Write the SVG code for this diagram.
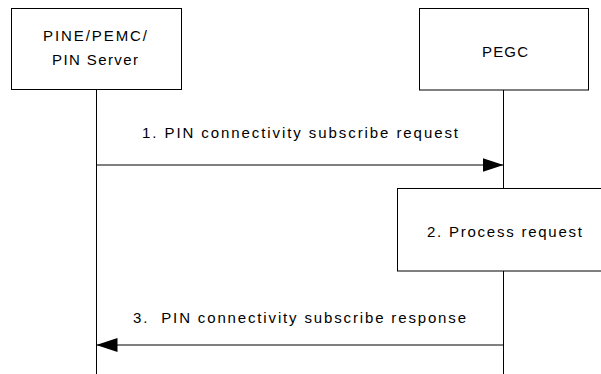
<svg xmlns="http://www.w3.org/2000/svg" width="601" height="374" viewBox="0 0 601 374">
  <style>
    .box { fill: #fff; stroke: #000; stroke-width: 1; }
    .life { stroke: #000; stroke-width: 1; fill: none; }
    .msg { stroke: #000; stroke-width: 1; fill: none; }
    text { font-family: "Liberation Sans", Arial, sans-serif; font-size: 15px; fill: #000; white-space: pre; }
  </style>
  <defs>
    <marker id="ah" viewBox="0 0 21 14" refX="21" refY="7" markerWidth="21" markerHeight="14" markerUnits="userSpaceOnUse" orient="auto">
      <path d="M0,0 L21,7 L0,14 Z" fill="#000"/>
    </marker>
  </defs>
  <g id="lifelines">
    <line class="life" x1="96.5" y1="89.5" x2="96.5" y2="374"/>
    <line class="life" x1="503.5" y1="90" x2="503.5" y2="374"/>
  </g>
  <g id="node-pine">
    <rect class="box" x="11.5" y="8.5" width="170" height="81"/>
    <text x="43" y="41" textLength="104" lengthAdjust="spacing">PINE/PEMC/</text>
    <text x="52" y="65" textLength="86" lengthAdjust="spacing">PIN Server</text>
  </g>
  <g id="node-pegc">
    <rect class="box" x="419.5" y="8.5" width="169" height="81.5"/>
    <text x="482" y="57" textLength="46" lengthAdjust="spacing">PEGC</text>
  </g>
  <g id="node-process">
    <rect class="box" x="397.5" y="188.5" width="210" height="82.5"/>
    <text x="427" y="237" textLength="155" lengthAdjust="spacing">2. Process request</text>
  </g>
  <g id="connectors">
    <line class="msg" x1="96.5" y1="165" x2="503.5" y2="165" marker-end="url(#ah)"/>
    <text x="142" y="138" textLength="316" lengthAdjust="spacing">1. PIN connectivity subscribe request</text>
    <line class="msg" x1="503.5" y1="345" x2="96.5" y2="345" marker-end="url(#ah)"/>
    <text x="133" y="323" textLength="333" lengthAdjust="spacing">3.  PIN connectivity subscribe response</text>
  </g>
</svg>
